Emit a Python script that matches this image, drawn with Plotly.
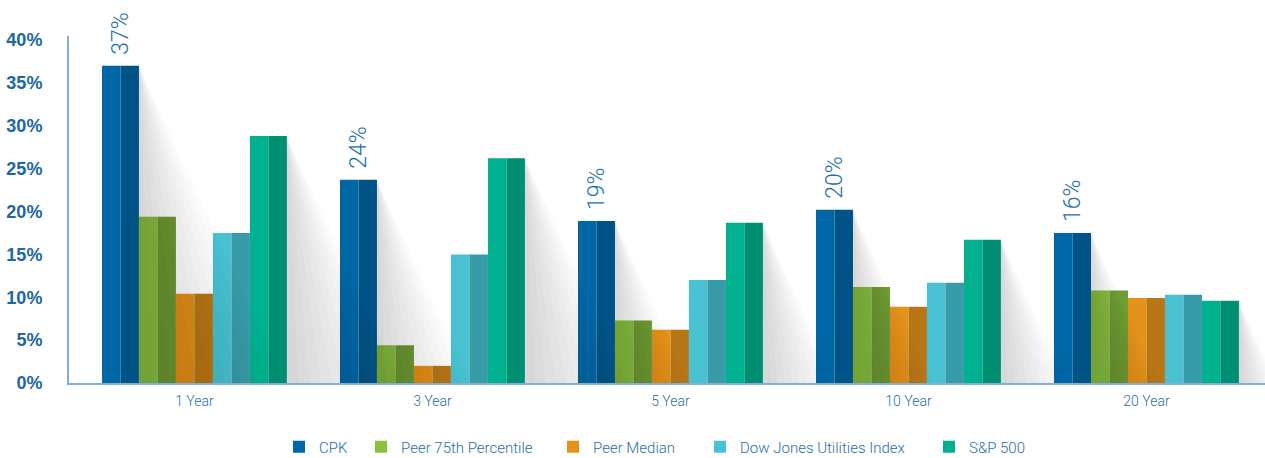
import plotly.graph_objects as go

categories = ["1 Year", "3 Year", "5 Year", "10 Year", "20 Year"]
series_names = ["CPK", "Peer 75th Percentile", "Peer Median", "Dow Jones Utilities Index", "S&P 500"]
cpk = [37.0, 23.7, 18.9, 20.2, 17.5]
peer75 = [19.4, 4.4, 7.3, 11.2, 10.8]
peer_median = [10.4, 2.0, 6.2, 8.9, 9.9]
dow_jones = [17.5, 15.0, 12.0, 11.7, 10.3]
sp500 = [28.8, 26.2, 18.7, 16.7, 9.6]
cpk_labels = ["37%", "24%", "19%", "20%", "16%"]
y_ticks = [0, 5, 10, 15, 20, 25, 30, 35, 40]
y_tick_text = ["0%", "5%", "10%", "15%", "20%", "25%", "30%", "35%", "40%"]

series_values = [cpk, peer75, peer_median, dow_jones, sp500]
light_colors = ["#0067a6", "#8bc13f", "#e5921a", "#48c2d2", "#00b190"]
dark_colors = ["#005386", "#6f9d33", "#b87617", "#389ba8", "#008f73"]
# legend text start (px, container) for each entry
legend_text_x = [320, 402, 594, 741, 970]
LEG_TEXT_OFFSET = 41

x_idx = list(range(len(categories)))
GROUP_W = 0.777
BAR_W = GROUP_W / 5
SHADOW_K = 0.0165

fig = go.Figure()

# soft diagonal shadows behind CPK and S&P bars
N_LAYERS = 10
for s in (0, 4):
    vals = series_values[s]
    for k in range(N_LAYERS):
        frac = 1.0 - k / N_LAYERS
        xs, ys = [], []
        for i, v in enumerate(vals):
            xr = i - GROUP_W / 2 + (s + 1) * BAR_W
            xs += [xr, xr + SHADOW_K * v * frac, xr, xr, None]
            ys += [v, 0, 0, v, None]
        fig.add_trace(go.Scatter(
            x=xs, y=ys, mode="lines", fill="toself", line=dict(width=0, color="rgba(0,0,0,0)"),
            fillcolor="rgba(0,0,0,0.016)", hoverinfo="skip", showlegend=False))

legend_keys = ["legend", "legend2", "legend3", "legend4", "legend5"]
for s, (name, vals) in enumerate(zip(series_names, series_values)):
    base_off = -GROUP_W / 2 + s * BAR_W
    fig.add_trace(go.Bar(
        x=x_idx, y=vals, width=BAR_W / 2, offset=base_off,
        marker=dict(color=light_colors[s], line=dict(width=0)),
        name=name, legendgroup=name, showlegend=True, legend=legend_keys[s]))
    fig.add_trace(go.Bar(
        x=x_idx, y=vals, width=BAR_W / 2, offset=base_off + BAR_W / 2,
        marker=dict(color=dark_colors[s], line=dict(width=0)),
        name=name, legendgroup=name, showlegend=False, legend=legend_keys[s]))

for i, (v, lab) in enumerate(zip(cpk, cpk_labels)):
    fig.add_annotation(
        x=i - GROUP_W / 2 + BAR_W / 2, y=v, text=lab, textangle=-90,
        showarrow=False, xanchor="center", yanchor="bottom", yshift=9,
        font=dict(family="Roboto, Liberation Sans, sans-serif", size=23, color="#1c6fae", weight=300))

legend_font = dict(family="Roboto, Liberation Sans, sans-serif", size=15, color="#2a6ea8", weight=300)
legends = {}
for s, key in enumerate(legend_keys):
    legends[key] = dict(
        orientation="h", xref="container", yref="container",
        x=(legend_text_x[s] - LEG_TEXT_OFFSET) / 1265, xanchor="left",
        y=1 - 447 / 458, yanchor="middle",
        font=legend_font, itemclick=False, bgcolor="rgba(0,0,0,0)", borderwidth=0)

fig.update_layout(
    width=1265, height=458,
    margin=dict(l=69, r=0, t=36, b=75, autoexpand=False),
    barmode="overlay",
    plot_bgcolor="white", paper_bgcolor="white",
    showlegend=True,
    xaxis=dict(range=[-0.527, 4.498], tickvals=x_idx, ticktext=categories,
               showgrid=False, zeroline=False, showline=True, linecolor="#7eb0d4", linewidth=2,
               ticks="", ticklabelstandoff=4,
               tickfont=dict(family="Roboto, Liberation Sans, sans-serif", size=14, color="#2a6ea8", weight=300)),
    yaxis=dict(range=[0, 40.47], tickvals=y_ticks, ticktext=y_tick_text,
               showgrid=False, zeroline=False, showline=True, linecolor="#7eb0d4", linewidth=2,
               ticks="", ticklabelstandoff=21,
               tickfont=dict(family="Liberation Sans, Arial, sans-serif", size=18, color="#1d67a3", weight="bold")),
    **legends,
)

fig.write_html("out.html")
